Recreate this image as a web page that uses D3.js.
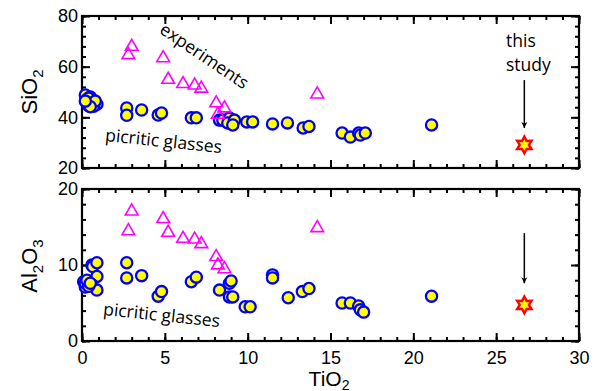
<!DOCTYPE html>
<html>
<head>
<meta charset="utf-8">
<script src="https://cdn.jsdelivr.net/npm/d3@7"></script>
<style>
  body { margin: 0; background: #fff; }
  text { font-family: "Liberation Sans", Arial, sans-serif; }
  .note { font-family: "Open Sans", "Noto Sans", sans-serif; }
</style>
</head>
<body>
<svg id="chart" width="596" height="391"></svg>
<script>
// experiments (triangles): [TiO2, SiO2] and [TiO2, Al2O3]
const expSiO2 = [[3.0, 68.3], [2.8, 65.0], [4.9, 63.8], [5.2, 55.3], [6.1, 53.6], [6.8, 53.0],
  [7.2, 51.8], [8.1, 46.0], [8.6, 44.0], [8.2, 41.5], [14.2, 49.5]];
const expAl2O3 = [[3.0, 17.2], [2.8, 14.6], [4.9, 16.2], [5.2, 14.4], [6.1, 13.6], [6.8, 13.5],
  [7.2, 12.9], [8.1, 11.2], [8.2, 10.1], [8.6, 9.6], [14.2, 15.0]];

// picritic glasses (circles)
const glassSiO2 = [[0.2, 48.8], [0.5, 48.0], [0.3, 47.0], [0.6, 46.2], [0.8, 45.6], [0.4, 44.6],
  [0.6, 45.0], [0.9, 45.2], [0.5, 46.0], [0.3, 45.8], [0.7, 44.4], [0.4, 47.6], [0.8, 46.4],
  [0.5, 44.2], [0.2, 46.4],
  [2.7, 43.7], [2.7, 40.8], [3.6, 42.9], [4.6, 40.9], [4.8, 41.7], [6.6, 39.8], [6.9, 39.8],
  [8.3, 38.9], [8.5, 38.9], [8.9, 39.7], [8.8, 37.8], [9.2, 38.9], [9.1, 37.0],
  [9.95, 38.2], [10.3, 38.2], [11.5, 37.4], [12.4, 37.8], [13.35, 35.8], [13.7, 36.4],
  [15.7, 33.8], [16.2, 32.2], [16.7, 33.8], [16.8, 33.0], [17.1, 33.8], [21.1, 37.0]];
const glassAl2O3 = [[0.6, 10.0], [0.65, 9.8], [0.9, 10.3], [0.9, 8.5], [0.1, 7.8], [0.35, 7.8],
  [0.2, 7.1], [0.6, 7.4], [0.9, 6.7], [0.2, 7.6], [0.4, 7.2], [0.3, 8.0], [0.5, 7.6],
  [2.7, 10.3], [2.7, 8.3], [3.6, 8.6], [4.6, 5.9], [4.8, 6.5], [6.6, 7.8], [6.9, 8.4],
  [8.3, 6.7], [8.9, 7.6], [9.0, 7.9], [8.9, 5.8], [9.1, 5.8], [9.85, 4.5], [10.15, 4.5],
  [11.5, 8.7], [11.5, 8.3], [12.45, 5.7], [13.3, 6.5], [13.7, 6.9],
  [15.7, 5.0], [16.2, 5.0], [16.7, 4.6], [16.8, 4.1], [17.0, 3.8], [21.1, 5.9]];

// this study (star)
const studySiO2 = [[26.7, 29.1]];
const studyAl2O3 = [[26.7, 4.75]];
// arrows: [TiO2, from, to]
const arrowSiO2 = [26.7, 54.7, 35.8];
const arrowAl2O3 = [26.7, 14.2, 7.6];

const xTicks = [0, 5, 10, 15, 20, 25, 30];
const siTicks = [20, 40, 60, 80];
const alTicks = [0, 10, 20];

const svg = d3.select("#chart");
const x = d3.scaleLinear().domain([0, 30]).range([82, 579]);

const panels = [
  {top: 16, bottom: 168, dom: [20, 80], ticks: siTicks, minor: 4, exp: expSiO2, glass: glassSiO2,
   study: studySiO2, arrow: arrowSiO2, xlabels: false},
  {top: 189, bottom: 341, dom: [0, 20], ticks: alTicks, minor: 2, exp: expAl2O3, glass: glassAl2O3,
   study: studyAl2O3, arrow: arrowAl2O3, xlabels: true}
];

svg.append("defs").append("marker")
    .attr("id", "head")
    .attr("viewBox", "0 0 10 10")
    .attr("refX", 10).attr("refY", 5)
    .attr("markerWidth", 6).attr("markerHeight", 9)
    .attr("markerUnits", "userSpaceOnUse")
    .attr("orient", "auto")
  .append("path")
    .attr("d", "M0,0 L10,5 L0,10 L3,5 Z")
    .attr("fill", "#000");

const star = d3.lineRadial().curve(d3.curveLinearClosed)(
  d3.range(12).map(i => [i * Math.PI / 6, i % 2 ? 4.6 : 8.3]));

panels.forEach(p => {
  const y = d3.scaleLinear().domain(p.dom).range([p.bottom, p.top]);
  const g = svg.append("g");
  const w = 579 - 82, h = p.bottom - p.top;

  const minorX = d3.range(0, 31, 1);
  const minorY = d3.range(p.dom[0], p.dom[1] + 0.01, p.minor);

  // minor ticks
  g.append("g").attr("transform", `translate(0,${p.bottom})`)
    .call(d3.axisBottom(x).tickValues(minorX).tickSize(-4).tickFormat(""));
  g.append("g").attr("transform", `translate(0,${p.top})`)
    .call(d3.axisTop(x).tickValues(minorX).tickSize(-4).tickFormat(""));
  g.append("g").attr("transform", "translate(82,0)")
    .call(d3.axisLeft(y).tickValues(minorY).tickSize(-4).tickFormat(""));
  g.append("g").attr("transform", "translate(579,0)")
    .call(d3.axisRight(y).tickValues(minorY).tickSize(-4).tickFormat(""));

  // major ticks
  g.append("g").attr("class", "xb").attr("transform", `translate(0,${p.bottom})`)
    .call(d3.axisBottom(x).tickValues(xTicks).tickSize(-8).tickPadding(10)
      .tickFormat(p.xlabels ? d3.format("d") : ""));
  g.append("g").attr("transform", `translate(0,${p.top})`)
    .call(d3.axisTop(x).tickValues(xTicks).tickSize(-8).tickFormat(""));
  g.append("g").attr("class", "yl").attr("transform", "translate(82,0)")
    .call(d3.axisLeft(y).tickValues(p.ticks).tickSize(-8).tickPadding(12));
  g.append("g").attr("transform", "translate(579,0)")
    .call(d3.axisRight(y).tickValues(p.ticks).tickSize(-8).tickFormat(""));

  g.selectAll(".domain").remove();
  g.selectAll(".tick line").attr("stroke", "#000").attr("stroke-width", 2);
  g.selectAll(".tick text").attr("fill", "#000").style("font-size", "18px")
    .style("font-family", "'Liberation Sans', Arial, sans-serif");
  g.selectAll(".yl .tick text").attr("x", -4);

  g.append("rect")
    .attr("x", 82).attr("y", p.top).attr("width", w).attr("height", h)
    .attr("fill", "none").attr("stroke", "#000").attr("stroke-width", 2.2);

  // picritic glasses
  g.append("g").selectAll("circle").data(p.glass).join("circle")
    .attr("cx", d => x(d[0])).attr("cy", d => y(d[1])).attr("r", 5.6)
    .attr("fill", "#ffff00").attr("stroke", "#0000ff").attr("stroke-width", 2.3);

  // experiments
  g.append("g").selectAll("path").data(p.exp).join("path")
    .attr("d", d3.symbol(d3.symbolTriangle, 70))
    .attr("transform", d => `translate(${x(d[0])},${y(d[1]) + 1})`)
    .attr("fill", "none").attr("stroke", "#ff00ff").attr("stroke-width", 1.6);

  // this study
  g.append("g").selectAll("path").data(p.study).join("path")
    .attr("d", star)
    .attr("transform", d => `translate(${x(d[0])},${y(d[1])})`)
    .attr("fill", "#ffff00").attr("stroke", "#ff0000").attr("stroke-width", 2.4)
    .attr("stroke-linejoin", "miter");

  g.append("line")
    .attr("x1", x(p.arrow[0])).attr("x2", x(p.arrow[0]))
    .attr("y1", y(p.arrow[1])).attr("y2", y(p.arrow[2]))
    .attr("stroke", "#000").attr("stroke-width", 1.5)
    .attr("marker-end", "url(#head)");
});

// notes
svg.append("text").attr("class", "note")
  .attr("transform", "translate(201,61) rotate(34)")
  .attr("text-anchor", "middle").style("font-size", "17.5px").text("experiments");
svg.append("text").attr("class", "note")
  .attr("transform", "translate(163,147) rotate(6)")
  .attr("text-anchor", "middle").style("font-size", "17.5px").text("picritic glasses");
svg.append("text").attr("class", "note")
  .attr("transform", "translate(161,321) rotate(6)")
  .attr("text-anchor", "middle").style("font-size", "17.5px").text("picritic glasses");
svg.append("text").attr("class", "note").attr("x", 506).attr("y", 47)
  .style("font-size", "17.5px").text("this");
svg.append("text").attr("class", "note").attr("x", 506).attr("y", 71)
  .style("font-size", "17.5px").text("study");

// axis titles
const si = svg.append("text").attr("transform", "translate(37,92) rotate(-90)")
  .attr("text-anchor", "middle").style("font-size", "22px");
si.append("tspan").text("SiO");
si.append("tspan").attr("dy", 6).style("font-size", "15px").text("2");

const al = svg.append("text").attr("transform", "translate(37,266) rotate(-90)")
  .attr("text-anchor", "middle").style("font-size", "22px");
al.append("tspan").text("Al");
al.append("tspan").attr("dy", 6).style("font-size", "15px").text("2");
al.append("tspan").attr("dy", -6).text("O");
al.append("tspan").attr("dy", 6).style("font-size", "15px").text("3");

const ti = svg.append("text").attr("transform", "translate(329,386)")
  .attr("text-anchor", "middle").style("font-size", "21px");
ti.append("tspan").text("TiO");
ti.append("tspan").attr("dy", 4).style("font-size", "14px").text("2");
</script>
</body>
</html>
